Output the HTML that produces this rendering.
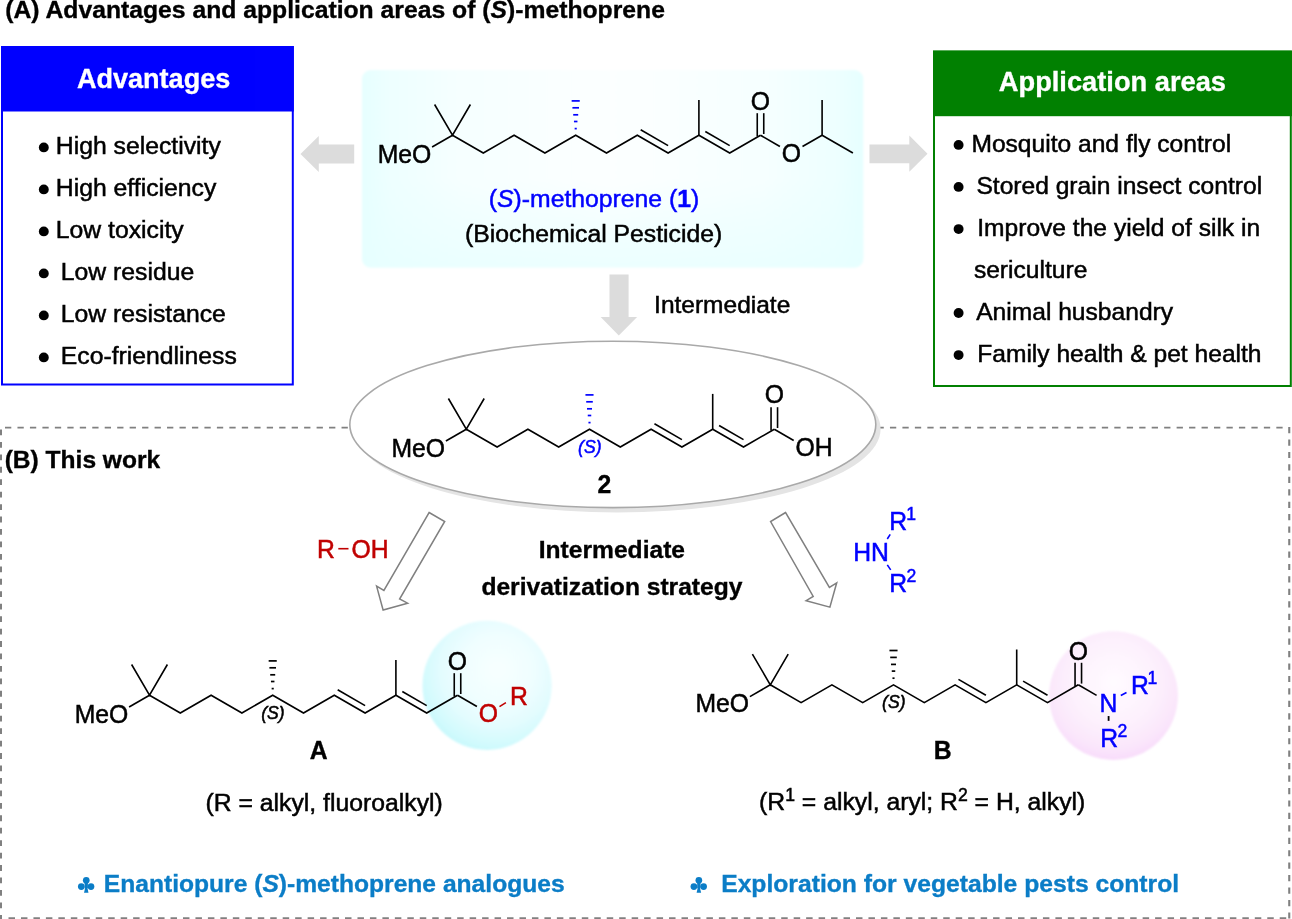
<!DOCTYPE html>
<html><head><meta charset="utf-8"><title>Scheme</title>
<style>
html,body{margin:0;padding:0;background:#fff;}
body{width:1292px;height:919px;overflow:hidden;font-family:"Liberation Sans",sans-serif;}
svg{display:block;font-family:"Liberation Sans",sans-serif;will-change:transform;opacity:0.999;}
</style></head><body>
<svg width="1292" height="919" viewBox="0 0 1292 919">
<defs>
<linearGradient id="gBox" x1="0" y1="0" x2="1" y2="0">
<stop offset="0" stop-color="#e6ffff"/><stop offset="0.06" stop-color="#eeffff"/><stop offset="0.2" stop-color="#f6ffff"/><stop offset="0.5" stop-color="#fcffff"/><stop offset="0.8" stop-color="#f6ffff"/><stop offset="0.94" stop-color="#eeffff"/><stop offset="1" stop-color="#e6ffff"/>
</linearGradient>
<linearGradient id="gBoxV" x1="0" y1="0" x2="0" y2="1">
<stop offset="0" stop-color="#e6ffff" stop-opacity="0"/><stop offset="0.55" stop-color="#e6ffff" stop-opacity="0"/><stop offset="1" stop-color="#e6ffff" stop-opacity="0.75"/>
</linearGradient>
<radialGradient id="gCy" cx="58%" cy="38%" r="66%">
<stop offset="0" stop-color="#f7ffff"/><stop offset="0.4" stop-color="#f0feff"/><stop offset="0.68" stop-color="#e2fcfe"/><stop offset="0.88" stop-color="#d2fafd"/><stop offset="1" stop-color="#c6f8fc"/>
</radialGradient>
<radialGradient id="gPk" cx="50%" cy="40%" r="60%">
<stop offset="0" stop-color="#fffbff"/><stop offset="0.55" stop-color="#fdf1fd"/><stop offset="0.85" stop-color="#fae6fb"/><stop offset="1" stop-color="#f8dcfa"/>
</radialGradient>
<filter id="soft" x="-5%" y="-5%" width="110%" height="110%"><feGaussianBlur stdDeviation="0.8"/></filter>
<filter id="soft2" x="-5%" y="-5%" width="110%" height="110%"><feGaussianBlur stdDeviation="0.5"/></filter>
</defs>
<rect width="1292" height="919" fill="#fff"/>

<text x="5.20" y="18.00" font-size="24.73" fill="#000" font-weight="bold" font-style="normal" text-anchor="start"  stroke="#000" stroke-width="0.35">(A) Advantages and application areas of (<tspan font-style="italic">S</tspan>)-methoprene</text>
<rect x="2" y="47" width="290.8" height="337.5" fill="#fff" stroke="#0000ff" stroke-width="2"/>
<rect x="1" y="46" width="292.8" height="65.5" fill="#0000ff"/>
<text x="153.60" y="87.60" font-size="27.05" fill="#fff" font-weight="bold" font-style="normal" text-anchor="middle"  stroke="#fff" stroke-width="0.35">Advantages</text>
<circle cx="43.8" cy="147.4" r="4.95" fill="#000"/>
<text x="55.80" y="154.30" font-size="24.75" fill="#000" font-weight="normal" font-style="normal" text-anchor="start"  stroke="#000" stroke-width="0.5">High selectivity</text>
<circle cx="43.8" cy="189.4" r="4.95" fill="#000"/>
<text x="55.80" y="196.30" font-size="24.75" fill="#000" font-weight="normal" font-style="normal" text-anchor="start"  stroke="#000" stroke-width="0.5">High efficiency</text>
<circle cx="43.8" cy="231.4" r="4.95" fill="#000"/>
<text x="55.80" y="238.30" font-size="24.75" fill="#000" font-weight="normal" font-style="normal" text-anchor="start"  stroke="#000" stroke-width="0.5">Low toxicity</text>
<circle cx="43.8" cy="273.4" r="4.95" fill="#000"/>
<text x="60.80" y="280.30" font-size="24.75" fill="#000" font-weight="normal" font-style="normal" text-anchor="start"  stroke="#000" stroke-width="0.5">Low residue</text>
<circle cx="43.8" cy="315.4" r="4.95" fill="#000"/>
<text x="60.80" y="322.30" font-size="24.75" fill="#000" font-weight="normal" font-style="normal" text-anchor="start"  stroke="#000" stroke-width="0.5">Low resistance</text>
<circle cx="43.8" cy="357.4" r="4.95" fill="#000"/>
<text x="60.80" y="364.30" font-size="24.75" fill="#000" font-weight="normal" font-style="normal" text-anchor="start"  stroke="#000" stroke-width="0.5">Eco-friendliness</text>
<rect x="934" y="51.6" width="356.8" height="334.4" fill="#fff" stroke="#008000" stroke-width="2"/>
<rect x="933" y="50.6" width="359" height="65.6" fill="#008000"/>
<text x="1112.40" y="90.80" font-size="27.25" fill="#fff" font-weight="bold" font-style="normal" text-anchor="middle"  stroke="#fff" stroke-width="0.35">Application areas</text>
<circle cx="958.6" cy="144.9" r="4.95" fill="#000"/>
<text x="971.40" y="152.00" font-size="24.6" fill="#000" font-weight="normal" font-style="normal" text-anchor="start"  stroke="#000" stroke-width="0.5">Mosquito and fly control</text>
<circle cx="958.6" cy="186.9" r="4.95" fill="#000"/>
<text x="976.40" y="194.00" font-size="24.6" fill="#000" font-weight="normal" font-style="normal" text-anchor="start"  stroke="#000" stroke-width="0.5">Stored grain insect control</text>
<circle cx="958.6" cy="229.1" r="4.95" fill="#000"/>
<text x="977.20" y="236.20" font-size="24.6" fill="#000" font-weight="normal" font-style="normal" text-anchor="start"  stroke="#000" stroke-width="0.5">Improve the yield of silk in</text>
<text x="973.90" y="278.20" font-size="24.6" fill="#000" font-weight="normal" font-style="normal" text-anchor="start"  stroke="#000" stroke-width="0.5">sericulture</text>
<circle cx="958.6" cy="313.0" r="4.95" fill="#000"/>
<text x="976.20" y="320.10" font-size="24.6" fill="#000" font-weight="normal" font-style="normal" text-anchor="start"  stroke="#000" stroke-width="0.5">Animal husbandry</text>
<circle cx="958.6" cy="355.1" r="4.95" fill="#000"/>
<text x="977.20" y="362.20" font-size="24.6" fill="#000" font-weight="normal" font-style="normal" text-anchor="start"  stroke="#000" stroke-width="0.5">Family health &amp; pet health</text>
<g filter="url(#soft)"><rect x="362" y="70" width="501.3" height="197.6" rx="9" ry="9" fill="url(#gBox)"/><rect x="362" y="70" width="501.3" height="197.6" rx="9" ry="9" fill="url(#gBoxV)"/></g>
<polygon points="300.5,154 318.8,136 318.8,144.6 354.2,144.6 354.2,163.4 318.8,163.4 318.8,172" fill="#dcdcdc"/>
<polygon points="927.5,153.7 909.3,135.6 909.3,144.6 869.5,144.6 869.5,163.2 909.3,163.2 909.3,171.8" fill="#dcdcdc"/>
<polygon points="609.5,274.6 628.6,274.6 628.6,317 637.1,317 618.8,335.6 600.7,317 609.5,317" fill="#dcdcdc"/>
<text x="654.10" y="313.00" font-size="24.5" fill="#000" font-weight="normal" font-style="normal" text-anchor="start"  stroke="#000" stroke-width="0.5">Intermediate</text>
<text x="431.30" y="162.65" font-size="24.75" fill="#000" font-weight="normal" font-style="normal" text-anchor="end"  transform="translate(0,162.65) scale(1,1.035) translate(0,-162.65)" stroke="#000" stroke-width="0.5">MeO</text>
<line x1="432.10" y1="147.05" x2="452.50" y2="135.20" stroke="#000" stroke-width="1.6" stroke-linecap="butt"/>
<polyline points="434.60,104.50 452.50,135.20 470.40,104.50" fill="none" stroke="#000" stroke-width="1.6" stroke-linejoin="miter" stroke-linecap="butt"/>
<polyline points="452.50,135.20 483.30,153.05 514.10,135.20 544.90,153.05 575.70,135.20 606.50,153.05 637.30,135.20 668.10,153.05 698.90,135.20 729.70,153.05 760.50,135.20" fill="none" stroke="#000" stroke-width="1.6" stroke-linejoin="miter" stroke-linecap="butt"/>
<line x1="571.65" y1="100.90" x2="579.75" y2="100.90" stroke="#0000ff" stroke-width="1.7" stroke-linecap="butt"/>
<line x1="572.40" y1="107.80" x2="579.00" y2="107.80" stroke="#0000ff" stroke-width="1.7" stroke-linecap="butt"/>
<line x1="573.20" y1="114.80" x2="578.20" y2="114.80" stroke="#0000ff" stroke-width="1.7" stroke-linecap="butt"/>
<line x1="573.95" y1="121.50" x2="577.45" y2="121.50" stroke="#0000ff" stroke-width="1.7" stroke-linecap="butt"/>
<line x1="574.65" y1="128.60" x2="576.75" y2="128.60" stroke="#0000ff" stroke-width="1.7" stroke-linecap="butt"/>
<line x1="640.68" y1="129.76" x2="668.11" y2="145.66" stroke="#000" stroke-width="1.6" stroke-linecap="butt"/>
<line x1="705.31" y1="131.52" x2="729.71" y2="145.66" stroke="#000" stroke-width="1.6" stroke-linecap="butt"/>
<line x1="698.90" y1="135.70" x2="698.90" y2="99.90" stroke="#000" stroke-width="1.6" stroke-linecap="butt"/>
<line x1="757.25" y1="136.40" x2="757.25" y2="113.20" stroke="#000" stroke-width="1.6" stroke-linecap="butt"/>
<line x1="763.75" y1="134.00" x2="763.75" y2="113.20" stroke="#000" stroke-width="1.6" stroke-linecap="butt"/>
<text x="760.50" y="109.90" font-size="24.75" fill="#000" font-weight="normal" font-style="normal" text-anchor="middle"  transform="translate(0,109.90) scale(1,1.035) translate(0,-109.90)" stroke="#000" stroke-width="0.5">O</text>
<line x1="760.50" y1="135.20" x2="779.90" y2="146.45" stroke="#000" stroke-width="1.6" stroke-linecap="butt"/>
<text x="791.30" y="162.35" font-size="24.75" fill="#000" font-weight="normal" font-style="normal" text-anchor="middle"  transform="translate(0,162.35) scale(1,1.035) translate(0,-162.35)" stroke="#000" stroke-width="0.5">O</text>
<line x1="802.50" y1="146.55" x2="822.10" y2="135.20" stroke="#000" stroke-width="1.6" stroke-linecap="butt"/>
<line x1="822.10" y1="135.70" x2="822.10" y2="99.90" stroke="#000" stroke-width="1.6" stroke-linecap="butt"/>
<line x1="822.10" y1="135.20" x2="852.90" y2="153.05" stroke="#000" stroke-width="1.6" stroke-linecap="butt"/>
<text x="488.80" y="207.10" font-size="24.75" fill="#0000ff" font-weight="normal" font-style="normal" text-anchor="start"  stroke="#0000ff" stroke-width="0.5">(<tspan font-style="italic">S</tspan>)-methoprene (<tspan font-weight="bold">1</tspan>)</text>
<text x="465.00" y="242.00" font-size="24.75" fill="#000" font-weight="normal" font-style="normal" text-anchor="start"  stroke="#000" stroke-width="0.5">(Biochemical Pesticide)</text>
<line x1="5" y1="427.55" x2="1283.5" y2="427.55" stroke="#808080" stroke-width="1.7" stroke-dasharray="6.3 6.164"/>
<line x1="1" y1="429.5" x2="1" y2="919" stroke="#808080" stroke-width="2" stroke-dasharray="5.8 6.646"/>
<line x1="1289.25" y1="427" x2="1289.25" y2="919" stroke="#808080" stroke-width="2.1" stroke-dasharray="6.2 6.246"/>
<line x1="8.5" y1="918.5" x2="1288" y2="918.5" stroke="#808080" stroke-width="2.6" stroke-dasharray="6.5 5.963"/>
<ellipse cx="617.2" cy="429.0" rx="263.4" ry="83.4" fill="#e4e4e4" filter="url(#soft2)"/>
<ellipse cx="612.8" cy="424.4" rx="263" ry="83.2" fill="#fff" stroke="#a9a9a9" stroke-width="1.6"/>
<text x="4.70" y="467.60" font-size="24.55" fill="#000" font-weight="bold" font-style="normal" text-anchor="start"  stroke="#000" stroke-width="0.35">(B) This work</text>
<text x="445.10" y="456.65" font-size="24.75" fill="#000" font-weight="normal" font-style="normal" text-anchor="end"  transform="translate(0,456.65) scale(1,1.035) translate(0,-456.65)" stroke="#000" stroke-width="0.5">MeO</text>
<line x1="445.90" y1="441.05" x2="466.30" y2="429.20" stroke="#000" stroke-width="1.6" stroke-linecap="butt"/>
<polyline points="448.40,398.50 466.30,429.20 484.20,398.50" fill="none" stroke="#000" stroke-width="1.6" stroke-linejoin="miter" stroke-linecap="butt"/>
<polyline points="466.30,429.20 497.10,447.05 527.90,429.20 558.70,447.05 589.50,429.20 620.30,447.05 651.10,429.20 681.90,447.05 712.70,429.20 743.50,447.05 774.30,429.20" fill="none" stroke="#000" stroke-width="1.6" stroke-linejoin="miter" stroke-linecap="butt"/>
<line x1="585.45" y1="394.90" x2="593.55" y2="394.90" stroke="#0000ff" stroke-width="1.7" stroke-linecap="butt"/>
<line x1="586.20" y1="401.80" x2="592.80" y2="401.80" stroke="#0000ff" stroke-width="1.7" stroke-linecap="butt"/>
<line x1="587.00" y1="408.80" x2="592.00" y2="408.80" stroke="#0000ff" stroke-width="1.7" stroke-linecap="butt"/>
<line x1="587.75" y1="415.50" x2="591.25" y2="415.50" stroke="#0000ff" stroke-width="1.7" stroke-linecap="butt"/>
<line x1="588.45" y1="422.60" x2="590.55" y2="422.60" stroke="#0000ff" stroke-width="1.7" stroke-linecap="butt"/>
<text x="589.80" y="452.80" font-size="17.6" fill="#0000ff" font-weight="normal" font-style="italic" text-anchor="middle"  stroke="#0000ff" stroke-width="0.5">(S)</text>
<line x1="654.48" y1="423.76" x2="681.91" y2="439.66" stroke="#000" stroke-width="1.6" stroke-linecap="butt"/>
<line x1="719.11" y1="425.52" x2="743.51" y2="439.66" stroke="#000" stroke-width="1.6" stroke-linecap="butt"/>
<line x1="712.70" y1="429.70" x2="712.70" y2="393.90" stroke="#000" stroke-width="1.6" stroke-linecap="butt"/>
<line x1="771.05" y1="430.40" x2="771.05" y2="407.20" stroke="#000" stroke-width="1.6" stroke-linecap="butt"/>
<line x1="777.55" y1="428.00" x2="777.55" y2="407.20" stroke="#000" stroke-width="1.6" stroke-linecap="butt"/>
<text x="774.30" y="403.10" font-size="24.75" fill="#000" font-weight="normal" font-style="normal" text-anchor="middle"  transform="translate(0,403.10) scale(1,1.035) translate(0,-403.10)" stroke="#000" stroke-width="0.5">O</text>
<line x1="774.30" y1="429.20" x2="793.70" y2="440.45" stroke="#000" stroke-width="1.6" stroke-linecap="butt"/>
<text x="795.50" y="456.35" font-size="24.75" fill="#000" font-weight="normal" font-style="normal" text-anchor="start"  transform="translate(0,456.35) scale(1,1.035) translate(0,-456.35)" stroke="#000" stroke-width="0.5">OH</text>
<text x="604.30" y="492.80" font-size="24.75" fill="#000" font-weight="bold" font-style="normal" text-anchor="middle"  transform="translate(0,492.80) scale(1,1.035) translate(0,-492.80)" stroke="#000" stroke-width="0.35">2</text>
<polygon points="429.1,512.5 444.7,521.5 399.6,599 407.6,603.2 383.1,610 376.6,586.2 383.9,590.5" fill="#fff" stroke="#808080" stroke-width="1.5" stroke-linejoin="miter"/>
<polygon points="785.6,512.5 770.6,521.5 813.2,596.4 806.1,600.7 829.9,607.1 836.7,582.8 829.4,587.4" fill="#fff" stroke="#808080" stroke-width="1.5" stroke-linejoin="miter"/>
<text x="317.00" y="558.00" font-size="24.75" fill="#c00000" font-weight="normal" font-style="normal" text-anchor="start"  transform="translate(0,558.00) scale(1,1.035) translate(0,-558.00)" stroke="#c00000" stroke-width="0.5">R</text>
<line x1="338.30" y1="548.70" x2="348.50" y2="548.70" stroke="#c00000" stroke-width="1.6" stroke-linecap="butt"/>
<text x="351.60" y="558.00" font-size="24.75" fill="#c00000" font-weight="normal" font-style="normal" text-anchor="start"  transform="translate(0,558.00) scale(1,1.035) translate(0,-558.00)" stroke="#c00000" stroke-width="0.5">OH</text>
<text x="611.90" y="557.70" font-size="24.6" fill="#000" font-weight="bold" font-style="normal" text-anchor="middle"  stroke="#000" stroke-width="0.35">Intermediate</text>
<text x="611.90" y="595.30" font-size="24.6" fill="#000" font-weight="bold" font-style="normal" text-anchor="middle"  stroke="#000" stroke-width="0.35">derivatization strategy</text>
<text x="853.20" y="560.70" font-size="24.75" fill="#0000ff" font-weight="normal" font-style="normal" text-anchor="start"  transform="translate(0,560.70) scale(1,1.035) translate(0,-560.70)" stroke="#0000ff" stroke-width="0.5">HN</text>
<text x="889.30" y="530.50" font-size="24.75" fill="#0000ff" font-weight="normal" font-style="normal" text-anchor="start"  transform="translate(0,530.50) scale(1,1.035) translate(0,-530.50)" stroke="#0000ff" stroke-width="0.5">R</text>
<text x="906.20" y="520.40" font-size="17.6" fill="#0000ff" font-weight="normal" font-style="normal" text-anchor="start"  transform="translate(0,520.40) scale(1,1.035) translate(0,-520.40)" stroke="#0000ff" stroke-width="0.5">1</text>
<text x="889.30" y="591.70" font-size="24.75" fill="#0000ff" font-weight="normal" font-style="normal" text-anchor="start"  transform="translate(0,591.70) scale(1,1.035) translate(0,-591.70)" stroke="#0000ff" stroke-width="0.5">R</text>
<text x="906.60" y="581.90" font-size="17.6" fill="#0000ff" font-weight="normal" font-style="normal" text-anchor="start"  transform="translate(0,581.90) scale(1,1.035) translate(0,-581.90)" stroke="#0000ff" stroke-width="0.5">2</text>
<line x1="887.30" y1="539.00" x2="890.20" y2="534.40" stroke="#0000ff" stroke-width="1.6" stroke-linecap="butt"/>
<line x1="887.30" y1="564.90" x2="890.70" y2="569.90" stroke="#0000ff" stroke-width="1.6" stroke-linecap="butt"/>
<circle cx="487.1" cy="685.4" r="64.6" fill="url(#gCy)" filter="url(#soft)"/>
<text x="128.30" y="722.65" font-size="24.75" fill="#000" font-weight="normal" font-style="normal" text-anchor="end"  transform="translate(0,722.65) scale(1,1.035) translate(0,-722.65)" stroke="#000" stroke-width="0.5">MeO</text>
<line x1="129.10" y1="707.05" x2="149.50" y2="695.20" stroke="#000" stroke-width="1.6" stroke-linecap="butt"/>
<polyline points="131.60,664.50 149.50,695.20 167.40,664.50" fill="none" stroke="#000" stroke-width="1.6" stroke-linejoin="miter" stroke-linecap="butt"/>
<polyline points="149.50,695.20 180.30,713.05 211.10,695.20 241.90,713.05 272.70,695.20 303.50,713.05 334.30,695.20 365.10,713.05 395.90,695.20 426.70,713.05 457.50,695.20" fill="none" stroke="#000" stroke-width="1.6" stroke-linejoin="miter" stroke-linecap="butt"/>
<line x1="268.65" y1="660.90" x2="276.75" y2="660.90" stroke="#000" stroke-width="1.7" stroke-linecap="butt"/>
<line x1="269.40" y1="667.80" x2="276.00" y2="667.80" stroke="#000" stroke-width="1.7" stroke-linecap="butt"/>
<line x1="270.20" y1="674.80" x2="275.20" y2="674.80" stroke="#000" stroke-width="1.7" stroke-linecap="butt"/>
<line x1="270.95" y1="681.50" x2="274.45" y2="681.50" stroke="#000" stroke-width="1.7" stroke-linecap="butt"/>
<line x1="271.65" y1="688.60" x2="273.75" y2="688.60" stroke="#000" stroke-width="1.7" stroke-linecap="butt"/>
<text x="273.00" y="718.80" font-size="17.6" fill="#000" font-weight="normal" font-style="italic" text-anchor="middle"  stroke="#000" stroke-width="0.5">(S)</text>
<line x1="337.68" y1="689.76" x2="365.11" y2="705.66" stroke="#000" stroke-width="1.6" stroke-linecap="butt"/>
<line x1="402.31" y1="691.52" x2="426.71" y2="705.66" stroke="#000" stroke-width="1.6" stroke-linecap="butt"/>
<line x1="395.90" y1="695.70" x2="395.90" y2="659.90" stroke="#000" stroke-width="1.6" stroke-linecap="butt"/>
<line x1="454.25" y1="696.40" x2="454.25" y2="673.20" stroke="#000" stroke-width="1.6" stroke-linecap="butt"/>
<line x1="460.75" y1="694.00" x2="460.75" y2="673.20" stroke="#000" stroke-width="1.6" stroke-linecap="butt"/>
<text x="457.50" y="669.80" font-size="24.75" fill="#000" font-weight="normal" font-style="normal" text-anchor="middle"  transform="translate(0,669.80) scale(1,1.035) translate(0,-669.80)" stroke="#000" stroke-width="0.5">O</text>
<line x1="457.50" y1="695.20" x2="476.90" y2="706.45" stroke="#000" stroke-width="1.6" stroke-linecap="butt"/>
<text x="488.30" y="722.35" font-size="24.75" fill="#c00000" font-weight="normal" font-style="normal" text-anchor="middle"  transform="translate(0,722.35) scale(1,1.035) translate(0,-722.35)" stroke="#c00000" stroke-width="0.5">O</text>
<line x1="499.50" y1="706.65" x2="505.90" y2="702.65" stroke="#c00000" stroke-width="1.6" stroke-linecap="butt"/>
<text x="510.00" y="705.00" font-size="24.75" fill="#c00000" font-weight="normal" font-style="normal" text-anchor="start"  transform="translate(0,705.00) scale(1,1.035) translate(0,-705.00)" stroke="#c00000" stroke-width="0.5">R</text>
<text x="318.80" y="759.50" font-size="24.75" fill="#000" font-weight="bold" font-style="normal" text-anchor="middle"  transform="translate(0,759.50) scale(1,1.035) translate(0,-759.50)" stroke="#000" stroke-width="0.35">A</text>
<text x="205.50" y="810.50" font-size="24.75" fill="#000" font-weight="normal" font-style="normal" text-anchor="start"  stroke="#000" stroke-width="0.5">(R = alkyl, fluoroalkyl)</text>
<circle cx="1113.5" cy="695.6" r="64.4" fill="url(#gPk)" filter="url(#soft)"/>
<text x="749.10" y="712.25" font-size="24.75" fill="#000" font-weight="normal" font-style="normal" text-anchor="end"  transform="translate(0,712.25) scale(1,1.035) translate(0,-712.25)" stroke="#000" stroke-width="0.5">MeO</text>
<line x1="749.90" y1="696.65" x2="770.30" y2="684.80" stroke="#000" stroke-width="1.6" stroke-linecap="butt"/>
<polyline points="752.40,654.10 770.30,684.80 788.20,654.10" fill="none" stroke="#000" stroke-width="1.6" stroke-linejoin="miter" stroke-linecap="butt"/>
<polyline points="770.30,684.80 801.10,702.65 831.90,684.80 862.70,702.65 893.50,684.80 924.30,702.65 955.10,684.80 985.90,702.65 1016.70,684.80 1047.50,702.65 1078.30,684.80" fill="none" stroke="#000" stroke-width="1.6" stroke-linejoin="miter" stroke-linecap="butt"/>
<line x1="889.45" y1="650.50" x2="897.55" y2="650.50" stroke="#000" stroke-width="1.7" stroke-linecap="butt"/>
<line x1="890.20" y1="657.40" x2="896.80" y2="657.40" stroke="#000" stroke-width="1.7" stroke-linecap="butt"/>
<line x1="891.00" y1="664.40" x2="896.00" y2="664.40" stroke="#000" stroke-width="1.7" stroke-linecap="butt"/>
<line x1="891.75" y1="671.10" x2="895.25" y2="671.10" stroke="#000" stroke-width="1.7" stroke-linecap="butt"/>
<line x1="892.45" y1="678.20" x2="894.55" y2="678.20" stroke="#000" stroke-width="1.7" stroke-linecap="butt"/>
<text x="893.80" y="708.40" font-size="17.6" fill="#000" font-weight="normal" font-style="italic" text-anchor="middle"  stroke="#000" stroke-width="0.5">(S)</text>
<line x1="958.48" y1="679.36" x2="985.91" y2="695.26" stroke="#000" stroke-width="1.6" stroke-linecap="butt"/>
<line x1="1023.11" y1="681.12" x2="1047.51" y2="695.26" stroke="#000" stroke-width="1.6" stroke-linecap="butt"/>
<line x1="1016.70" y1="685.30" x2="1016.70" y2="649.50" stroke="#000" stroke-width="1.6" stroke-linecap="butt"/>
<line x1="1075.05" y1="686.00" x2="1075.05" y2="662.80" stroke="#000" stroke-width="1.6" stroke-linecap="butt"/>
<line x1="1081.55" y1="683.60" x2="1081.55" y2="662.80" stroke="#000" stroke-width="1.6" stroke-linecap="butt"/>
<text x="1078.30" y="659.90" font-size="24.75" fill="#000" font-weight="normal" font-style="normal" text-anchor="middle"  transform="translate(0,659.90) scale(1,1.035) translate(0,-659.90)" stroke="#000" stroke-width="0.5">O</text>
<line x1="1078.30" y1="684.80" x2="1096.60" y2="695.40" stroke="#000" stroke-width="1.6" stroke-linecap="butt"/>
<text x="1108.40" y="711.95" font-size="24.75" fill="#0000ff" font-weight="normal" font-style="normal" text-anchor="middle"  transform="translate(0,711.95) scale(1,1.035) translate(0,-711.95)" stroke="#0000ff" stroke-width="0.5">N</text>
<line x1="1120.80" y1="695.45" x2="1126.50" y2="692.55" stroke="#0000ff" stroke-width="1.6" stroke-linecap="butt"/>
<text x="1131.00" y="694.30" font-size="24.75" fill="#0000ff" font-weight="normal" font-style="normal" text-anchor="start"  transform="translate(0,694.30) scale(1,1.035) translate(0,-694.30)" stroke="#0000ff" stroke-width="0.5">R</text>
<text x="1147.60" y="684.30" font-size="17.6" fill="#0000ff" font-weight="normal" font-style="normal" text-anchor="start"  transform="translate(0,684.30) scale(1,1.035) translate(0,-684.30)" stroke="#0000ff" stroke-width="0.5">1</text>
<line x1="1108.60" y1="716.05" x2="1108.60" y2="720.85" stroke="#000" stroke-width="1.8" stroke-linecap="butt"/>
<text x="1100.30" y="747.00" font-size="24.75" fill="#0000ff" font-weight="normal" font-style="normal" text-anchor="start"  transform="translate(0,747.00) scale(1,1.035) translate(0,-747.00)" stroke="#0000ff" stroke-width="0.5">R</text>
<text x="1117.60" y="737.50" font-size="17.6" fill="#0000ff" font-weight="normal" font-style="normal" text-anchor="start"  transform="translate(0,737.50) scale(1,1.035) translate(0,-737.50)" stroke="#0000ff" stroke-width="0.5">2</text>
<text x="942.80" y="758.80" font-size="24.75" fill="#000" font-weight="bold" font-style="normal" text-anchor="middle"  transform="translate(0,758.80) scale(1,1.035) translate(0,-758.80)" stroke="#000" stroke-width="0.35">B</text>
<text x="759.00" y="810.30" font-size="24.75" fill="#000" font-weight="normal" font-style="normal" text-anchor="start"  stroke="#000" stroke-width="0.5">(R<tspan font-size="17.6" dy="-9.2">1</tspan><tspan dy="9.2"> = alkyl, aryl; R</tspan><tspan font-size="17.6" dy="-9.2">2</tspan><tspan dy="9.2"> = H, alkyl)</tspan></text>
<g fill="#0b7dc7"><circle cx="86.25" cy="880.30" r="3.35"/><circle cx="81.30" cy="886.60" r="3.35"/><circle cx="91.00" cy="886.60" r="3.35"/><polygon points="86.25,883.30 88.50,892.80 84.00,892.80"/><rect x="84.60" y="882.80" width="3.3" height="5.5"/></g>
<text x="103.80" y="891.60" font-size="24.62" fill="#0b7dc7" font-weight="bold" font-style="normal" text-anchor="start"  stroke="#0b7dc7" stroke-width="0.35">Enantiopure (<tspan font-style="italic">S</tspan>)-methoprene analogues</text>
<g fill="#0b7dc7"><circle cx="698.85" cy="880.30" r="3.35"/><circle cx="693.90" cy="886.60" r="3.35"/><circle cx="703.60" cy="886.60" r="3.35"/><polygon points="698.85,883.30 701.10,892.80 696.60,892.80"/><rect x="697.20" y="882.80" width="3.3" height="5.5"/></g>
<text x="721.20" y="891.50" font-size="24.68" fill="#0b7dc7" font-weight="bold" font-style="normal" text-anchor="start"  stroke="#0b7dc7" stroke-width="0.35">Exploration for vegetable pests control</text>
</svg></body></html>
